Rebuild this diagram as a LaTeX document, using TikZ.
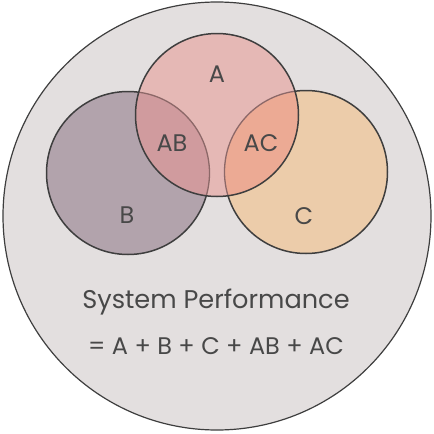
\documentclass[tikz,border=0pt]{standalone}
\usepackage{fontspec}
\setmainfont{Poppins}
\definecolor{bggray}{RGB}{227,223,223}
\definecolor{linegray}{RGB}{62,62,62}
\definecolor{textgray}{RGB}{72,72,72}
\definecolor{afill}{RGB}{229,184,181}
\definecolor{bfill}{RGB}{178,163,172}
\definecolor{cfill}{RGB}{236,204,170}
\definecolor{abfill}{RGB}{208,155,158}
\definecolor{acfill}{RGB}{236,170,148}
\definecolor{innerline}{RGB}{140,104,104}

\begin{document}
\begin{tikzpicture}[x=1pt, y=-1pt,
  every node/.style={text=textgray, inner sep=0pt},
  ring/.style={draw=linegray, line width=1.5pt},
  setlabel/.style={font=\fontsize{24}{28}\selectfont}]
  \useasboundingbox (0,0) rectangle (434,434);

  % outer system
  \coordinate (sys) at (217,216);
  \fill[bggray] (sys) circle[radius=214pt];
  \draw[linegray, line width=1.2pt] (sys) circle[radius=214pt];

  % the three sets
  \coordinate (ca) at (217,115);
  \coordinate (cb) at (128,173);
  \coordinate (cc) at (306,172);
  \fill[bfill] (cb) circle[radius=81.5pt];
  \fill[cfill] (cc) circle[radius=81.5pt];
  \draw[ring] (cb) circle[radius=81.5pt];
  \draw[ring] (cc) circle[radius=81.5pt];
  \fill[afill] (ca) circle[radius=81.5pt];
  \begin{scope}
    \clip (ca) circle[radius=81.5pt];
    \fill[abfill] (cb) circle[radius=81.5pt];
    \fill[acfill] (cc) circle[radius=81.5pt];
    \draw[innerline, line width=1.3pt] (cb) circle[radius=81.5pt];
    \draw[innerline, line width=1.3pt] (cc) circle[radius=81.5pt];
  \end{scope}
  \draw[ring] (ca) circle[radius=81.5pt];

  \node[setlabel] (la) at (217,74) {A};
  \node[setlabel] (lab) at (172,143) {AB};
  \node[setlabel] (lac) at (261,143) {AC};
  \node[setlabel] (lb) at (127,215) {B};
  \node[setlabel] (lc) at (304,216) {C};

  \node[font=\fontsize{25.6}{30}\selectfont] (title) at (216,302) {System Performance};
  \node[font=\fontsize{24}{28}\selectfont] (sum) at (216,346) {= A + B + C + AB + AC};
\end{tikzpicture}
\end{document}
